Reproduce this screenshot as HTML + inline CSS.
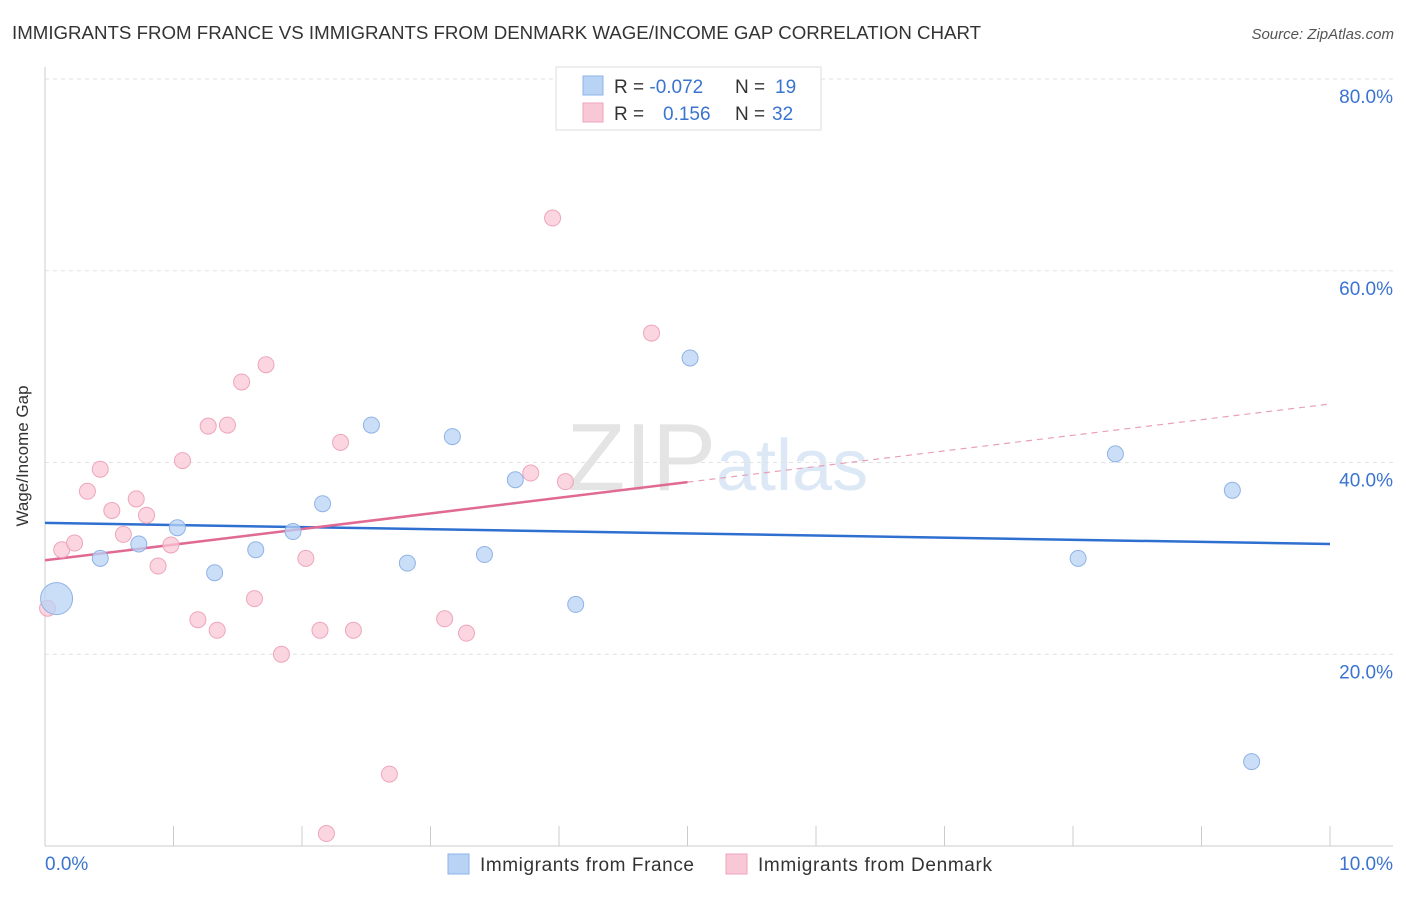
<!DOCTYPE html>
<html><head><meta charset="utf-8"><style>
body{margin:0;background:#fff;font-family:"Liberation Sans",sans-serif;}
svg text{font-family:"Liberation Sans",sans-serif;}
</style></head><body>
<svg width="1406" height="892" xmlns="http://www.w3.org/2000/svg">
<text x="12" y="39" font-size="18.7" fill="#333">IMMIGRANTS FROM FRANCE VS IMMIGRANTS FROM DENMARK WAGE/INCOME GAP CORRELATION CHART</text>
<text x="1394" y="39" font-size="15" fill="#555" font-style="italic" text-anchor="end">Source: ZipAtlas.com</text>
<text x="716" y="490" font-size="96" fill="#e4e4e4" text-anchor="end" font-family="Liberation Serif">ZIP</text>
<text x="716" y="490" font-size="72" fill="#dce8f5">atlas</text>
<g id="grid"></g>
<g id="axes"></g>
<g id="trend"></g>
<g id="pts"></g>
<text x="28" y="456" font-size="17" fill="#333" text-anchor="middle" transform="rotate(-90 28 456)">Wage/Income Gap</text>
<g>
<rect x="556" y="67" width="265" height="63" fill="#fff" stroke="#ddd"/>
<rect x="583" y="76" width="20" height="19" fill="#b9d3f5" stroke="#8fb3e6"/>
<rect x="583" y="103" width="20" height="19" fill="#f9c8d6" stroke="#eea5bb"/>
<text x="614" y="93" font-size="19" fill="#333">R = <tspan fill="#3a74d0">-0.072</tspan><tspan x="735" fill="#333">N = </tspan><tspan x="775" fill="#3a74d0">19</tspan></text>
<text x="614" y="120" font-size="19" fill="#333">R = <tspan x="663" fill="#3a74d0">0.156</tspan><tspan x="735" fill="#333">N = </tspan><tspan x="772" fill="#3a74d0">32</tspan></text>
</g>
<g>
<rect x="448" y="854" width="21" height="20" fill="#b9d3f5" stroke="#8fb3e6"/>
<text x="480" y="871" font-size="19" fill="#333" textLength="214">Immigrants from France</text>
<rect x="726" y="854" width="21" height="20" fill="#f9c8d6" stroke="#eea5bb"/>
<text x="758" y="871" font-size="19" fill="#333" textLength="234">Immigrants from Denmark</text>
</g>
</svg>
<script>
const franceX=[0.43,0.73,1.03,1.32,1.64,1.93,2.16,2.54,2.82,3.17,3.42,3.66,4.13,5.02,8.04,8.33,9.24,9.39];
const franceY=[30.0,31.5,33.2,28.5,30.9,32.8,35.7,43.9,29.5,42.7,30.4,38.2,25.2,50.9,30.0,40.9,37.1,8.8];
const franceBigX=[0.09];const franceBigY=[25.8];
const denmarkX=[0.02,0.13,0.23,0.33,0.43,0.52,0.61,0.71,0.79,0.88,0.98,1.07,1.19,1.27,1.34,1.42,1.53,1.63,1.72,1.84,2.03,2.14,2.19,2.30,2.40,2.68,3.11,3.28,3.78,3.95,4.05,4.72];
const denmarkY=[24.8,30.9,31.6,37.0,39.3,35.0,32.5,36.2,34.5,29.2,31.4,40.2,23.6,43.8,22.5,43.9,48.4,25.8,50.2,20.0,30.0,22.5,1.3,42.1,22.5,7.5,23.7,22.2,38.9,65.5,38.0,53.5];
const yTicks=[20,40,60,80];const yTickLabels=["20.0%","40.0%","60.0%","80.0%"];
const xTicks=[0,1,2,3,4,5,6,7,8,9,10];
const franceTrend=[33.7,31.5];const denmarkTrend=[29.8,46.1];const denmarkSolidEnd=[5.0];
const NS="http://www.w3.org/2000/svg";
const sx=v=>45+v*128.5, sy=v=>846-v*9.5875;
function mk(p,t,a){const e=document.createElementNS(NS,t);for(const k in a)e.setAttribute(k,a[k]);document.getElementById(p).appendChild(e);return e;}
yTicks.forEach((t,i)=>{
 const g=mk('grid','line',{x1:45,x2:1393,y1:sy(t),y2:sy(t),stroke:'#e2e2e2','stroke-dasharray':'4,4'});
 
 
 const l=mk('axes','text',{x:1393,y:sy(t)+24,'font-size':19,fill:'#3a74d0','text-anchor':'end'});l.textContent=yTickLabels[i];
 
 
});
const topGrid=mk('grid','line',{x1:45,x2:1393,y1:79,y2:79,stroke:'#e2e2e2','stroke-dasharray':'4,4'});


const ya=mk('axes','line',{x1:45,x2:45,y1:67,y2:846,stroke:'#ccc'});


const xa=mk('axes','line',{x1:45,x2:1393,y1:846,y2:846,stroke:'#ccc'});


xTicks.forEach(t=>{const e=mk('axes','line',{x1:sx(t),x2:sx(t),y1:826,y2:846,stroke:'#ccc'});
 
 });
const xl0=mk('axes','text',{x:45,y:870,'font-size':19,fill:'#3a74d0'});xl0.textContent='0.0%';


const xl1=mk('axes','text',{x:1393,y:870,'font-size':19,fill:'#3a74d0','text-anchor':'end'});xl1.textContent='10.0%';


denmarkX.forEach((x,i)=>{const c=mk('pts','circle',{cx:sx(x),cy:sy(denmarkY[i]),r:8,fill:'#f9c8d6','fill-opacity':0.75,stroke:'#eea5bb'});
 
 });
franceX.forEach((x,i)=>{const c=mk('pts','circle',{cx:sx(x),cy:sy(franceY[i]),r:8,fill:'#b9d3f5','fill-opacity':0.75,stroke:'#8fb3e6'});
 
 });
franceBigX.forEach((x,i)=>{const c=mk('pts','circle',{cx:sx(x),cy:sy(franceBigY[i]),r:16,fill:'#b9d3f5','fill-opacity':0.75,stroke:'#8fb3e6'});
 
 });
const dAt=x=>denmarkTrend[0]+(denmarkTrend[1]-denmarkTrend[0])*x/10;
const ft=mk('trend','line',{x1:sx(0),y1:sy(franceTrend[0]),x2:sx(10),y2:sy(franceTrend[1]),stroke:'#2f6fd0','stroke-width':2.5});


const dt=mk('trend','line',{x1:sx(0),y1:sy(dAt(0)),x2:sx(denmarkSolidEnd[0]),y2:sy(dAt(denmarkSolidEnd[0])),stroke:'#e06a93','stroke-width':2.5});


const dd=mk('trend','line',{x1:sx(denmarkSolidEnd[0]),y1:sy(dAt(denmarkSolidEnd[0])),x2:sx(10),y2:sy(dAt(10)),stroke:'#e8a0b8','stroke-width':1.2,'stroke-dasharray':'6,5'});


</script>
</body></html>
